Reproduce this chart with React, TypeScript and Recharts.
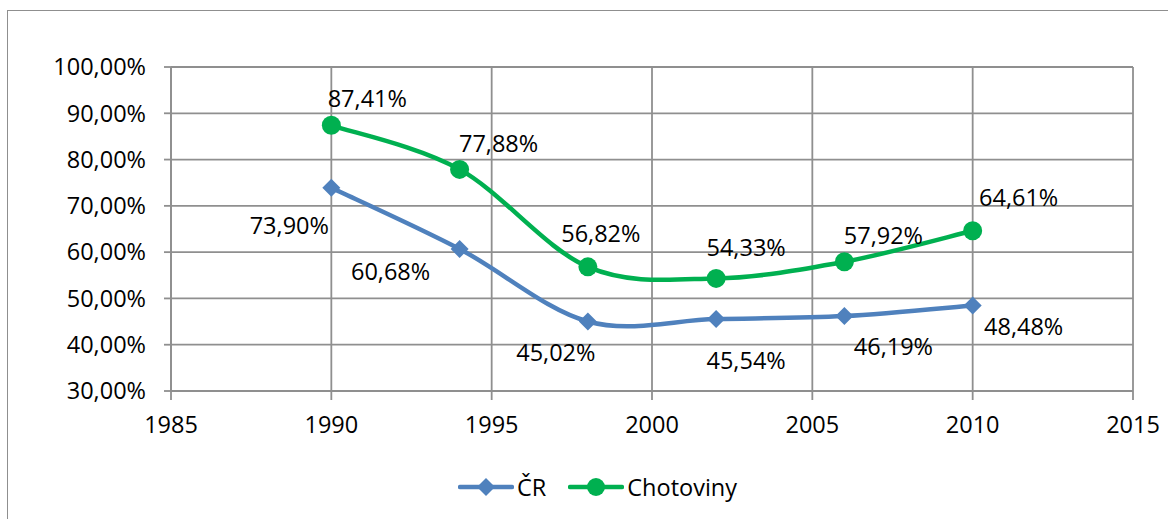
import React from 'react';
import { LineChart, Line, XAxis, YAxis, CartesianGrid, Legend, LabelList } from 'recharts';

const years = [1990, 1994, 1998, 2002, 2006, 2010];
const crValues = [73.9, 60.68, 45.02, 45.54, 46.19, 48.48];
const chotovinyValues = [87.41, 77.88, 56.82, 54.33, 57.92, 64.61];
const xTicks = [1985, 1990, 1995, 2000, 2005, 2010, 2015];
const yTicks = [30, 40, 50, 60, 70, 80, 90, 100];
const seriesOrder = ['cr', 'chotoviny'];

const data = years.map((year, i) => ({
  year,
  cr: crValues[i],
  chotoviny: chotovinyValues[i],
}));

// label placement relative to the point (label centre)
const crLabelOffsets = [
  [-42, 37], [-69, 22], [-32, 31], [30, 41], [49, 30], [51, 21],
];
const chotLabelOffsets = [
  [36, -27], [39, -26], [13, -34], [30, -31], [39, -27], [46, -34],
];

const BLUE = '#4F81BD';
const GREEN = '#00B050';
const GRID = '#8f8f8f';
const FONT = '"Open Sans", sans-serif';
const FONT_SIZE = 23.5;

const fmt = (v: number) => `${v.toFixed(2).replace('.', ',')}%`;

// Catmull-Rom style smoothing, close to the Excel "smoothed line"
const smoothCurve: any = (context: any) => {
  let pts: number[][] = [];
  return {
    areaStart() {},
    areaEnd() {},
    lineStart() {
      pts = [];
    },
    point(x: number, y: number) {
      pts.push([+x, +y]);
    },
    lineEnd() {
      if (!pts.length) return;
      context.moveTo(pts[0][0], pts[0][1]);
      for (let i = 0; i < pts.length - 1; i++) {
        const p0 = pts[i - 1] || pts[i];
        const p1 = pts[i];
        const p2 = pts[i + 1];
        const p3 = pts[i + 2] || p2;
        const c1x = p1[0] + (p2[0] - p0[0]) / 6;
        const c1y = p1[1] + (p2[1] - p0[1]) / 6;
        const c2x = p2[0] - (p3[0] - p1[0]) / 6;
        const c2y = p2[1] - (p3[1] - p1[1]) / 6;
        context.bezierCurveTo(c1x, c1y, c2x, c2y, p2[0], p2[1]);
      }
    },
  };
};

const Diamond = (props: any) => {
  const { cx, cy, index } = props;
  if (cx == null || cy == null) return <g key={index} />;
  const s = 9;
  return (
    <polygon
      key={index}
      points={`${cx},${cy - s} ${cx + s},${cy} ${cx},${cy + s} ${cx - s},${cy}`}
      fill={BLUE}
    />
  );
};

const Circle = (props: any) => {
  const { cx, cy, index } = props;
  if (cx == null || cy == null) return <g key={index} />;
  return <circle key={index} cx={cx} cy={cy} r={9.5} fill={GREEN} />;
};

const makeLabel = (offsets: number[][]) => (props: any) => {
  const { x, y, index, value } = props;
  const [dx, dy] = offsets[index] || [0, 0];
  return (
    <text
      x={x + dx}
      y={y + dy}
      textAnchor="middle"
      dominantBaseline="central"
      fill="#000"
      fontSize={FONT_SIZE}
      fontFamily={FONT}
    >
      {fmt(Number(value))}
    </text>
  );
};

const LegendContent = (props: any) => {
  const items = [...(props.payload || [])].sort(
    (a: any, b: any) => seriesOrder.indexOf(a.dataKey) - seriesOrder.indexOf(b.dataKey)
  );
  return (
    <div style={{ display: 'flex', alignItems: 'center', fontFamily: FONT, fontSize: FONT_SIZE, color: '#000', lineHeight: '30px' }}>
      {items.map((entry: any, i: number) => (
        <div key={i} style={{ display: 'flex', alignItems: 'center', marginRight: 22 }}>
          <svg width={56} height={22} style={{ marginRight: 3 }}>
            <line x1={2} y1={11} x2={54} y2={11} stroke={entry.color} strokeWidth={4.5} strokeLinecap="round" />
            {entry.dataKey === 'cr' ? (
              <polygon points="28,2 37,11 28,20 19,11" fill={entry.color} />
            ) : (
              <circle cx={28} cy={11} r={9} fill={entry.color} />
            )}
          </svg>
          <span>{entry.value}</span>
        </div>
      ))}
    </div>
  );
};

export default function App() {
  return (
    <div
      style={{
        position: 'absolute',
        left: 0,
        top: 0,
        width: 1168,
        height: 519,
        overflow: 'hidden',
        background: '#fff',
      }}
    >
      <div
        style={{
          position: 'absolute',
          left: 7,
          top: 10,
          width: 1300,
          height: 700,
          border: `1.5px solid ${GRID}`,
        }}
      />
      <div style={{ position: 'absolute', left: 0, top: 0 }}>
        <LineChart
          width={1168}
          height={519}
          data={data}
          margin={{ top: 67, right: 35, left: 0, bottom: 0 }}
        >
          <CartesianGrid stroke={GRID} strokeWidth={1.8} />
          <XAxis
            dataKey="year"
            type="number"
            domain={[1985, 2015]}
            ticks={xTicks}
            interval={0}
            height={98}
            stroke={GRID}
            strokeWidth={1.8}
            tickSize={9}
            tickMargin={16}
            tick={{ fill: '#000', fontSize: FONT_SIZE, fontFamily: FONT }}
          />
          <YAxis
            type="number"
            domain={[30, 100]}
            ticks={yTicks}
            interval={0}
            width={171}
            stroke={GRID}
            strokeWidth={1.8}
            tickSize={7}
            tickMargin={18}
            tickFormatter={(v) => fmt(Number(v))}
            tick={{ fill: '#000', fontSize: FONT_SIZE, fontFamily: FONT }}
          />
          <Legend
            content={<LegendContent />}
            wrapperStyle={{ position: 'absolute', left: 458, top: 472, width: 'auto', bottom: 'auto' }}
          />
          <Line
            dataKey="cr"
            name="ČR"
            stroke={BLUE}
            strokeWidth={4.5}
            type={smoothCurve}
            dot={Diamond}
            activeDot={false}
            isAnimationActive={false}
          >
            <LabelList dataKey="cr" content={makeLabel(crLabelOffsets)} />
          </Line>
          <Line
            dataKey="chotoviny"
            name="Chotoviny"
            stroke={GREEN}
            strokeWidth={4.5}
            type={smoothCurve}
            dot={Circle}
            activeDot={false}
            isAnimationActive={false}
          >
            <LabelList dataKey="chotoviny" content={makeLabel(chotLabelOffsets)} />
          </Line>
        </LineChart>
      </div>
    </div>
  );
}
